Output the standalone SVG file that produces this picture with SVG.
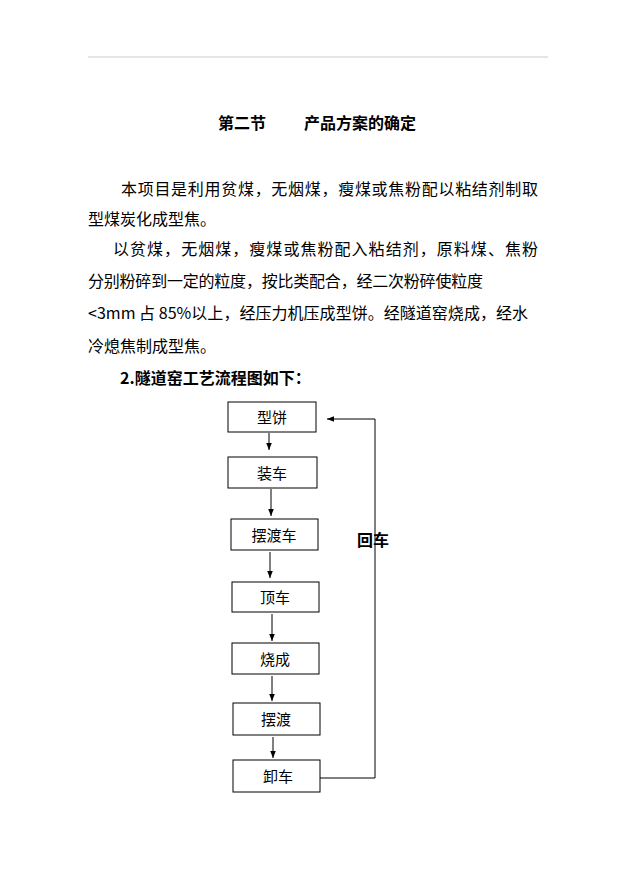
<svg xmlns="http://www.w3.org/2000/svg" width="621" height="877" viewBox="0 0 621 877">
<style>
.t{font-family:"Noto Sans CJK SC","Liberation Serif",serif;font-size:16px;fill:#000}
.b{font-weight:bold}
.n rect{fill:#fff;stroke:#000;stroke-width:1}
.n text{font-family:"Noto Sans CJK SC",sans-serif;font-size:15px;text-anchor:middle}
.c line,.c polyline{stroke:#000;stroke-width:1;fill:none}
</style>
<defs><marker id="a" viewBox="0 0 10 10" refX="10" refY="5" markerWidth="7" markerHeight="7" orient="auto"><path d="M0,1L10,5L0,9z" fill="#000"/></marker></defs>
<rect width="621" height="877" fill="#fff"/>
<line x1="88" y1="57" x2="548" y2="57" stroke="#ccc"/>
<text class="t b" x="218" y="129">第二节</text>
<text class="t b" x="304" y="129">产品方案的确定</text>
<text class="t" x="121" y="195" textLength="417">本项目是利用贫煤，无烟煤，瘦煤或焦粉配以粘结剂制取</text>
<text class="t" x="88" y="225">型煤炭化成型焦。</text>
<text class="t" x="113" y="255" textLength="425">以贫煤，无烟煤，瘦煤或焦粉配入粘结剂，原料煤、焦粉</text>
<text class="t" x="88" y="287" textLength="395">分别粉碎到一定的粒度，按比类配合，经二次粉碎使粒度</text>
<text class="t" x="88" y="319" textLength="440">&lt;3mm 占 85%以上，经压力机压成型饼。经隧道窑烧成，经水</text>
<text class="t" x="88" y="352">冷熄焦制成型焦。</text>
<text class="t b" x="120" y="384">2.隧道窑工艺流程图如下：</text>
<g class="c">
<line x1="269" y1="433" x2="269" y2="450" marker-end="url(#a)"/>
<line x1="271" y1="489" x2="271" y2="516" marker-end="url(#a)"/>
<line x1="270" y1="552" x2="270" y2="578" marker-end="url(#a)"/>
<line x1="272" y1="614" x2="272" y2="641" marker-end="url(#a)"/>
<line x1="272" y1="676" x2="272" y2="701" marker-end="url(#a)"/>
<line x1="273" y1="737" x2="273" y2="758" marker-end="url(#a)"/>
<polyline points="320,778 375,778 375,419 327,419" marker-end="url(#a)"/>
</g>
<text class="t b" x="357" y="546" font-size="15">回车</text>
<g class="n" id="n1"><rect x="228" y="402" width="88" height="30"/><text x="272" y="423">型饼</text></g>
<g class="n" id="n2"><rect x="228" y="457" width="89" height="31"/><text x="272" y="479">装车</text></g>
<g class="n" id="n3"><rect x="231" y="519" width="87" height="31"/><text x="274" y="541">摆渡车</text></g>
<g class="n" id="n4"><rect x="232" y="582" width="87" height="30"/><text x="275" y="603">顶车</text></g>
<g class="n" id="n5"><rect x="232" y="643" width="87" height="31"/><text x="275" y="665">烧成</text></g>
<g class="n" id="n6"><rect x="233" y="703" width="87" height="32"/><text x="276" y="725">摆渡</text></g>
<g class="n" id="n7"><rect x="233" y="760" width="87" height="32"/><text x="278" y="782">卸车</text></g>
</svg>
